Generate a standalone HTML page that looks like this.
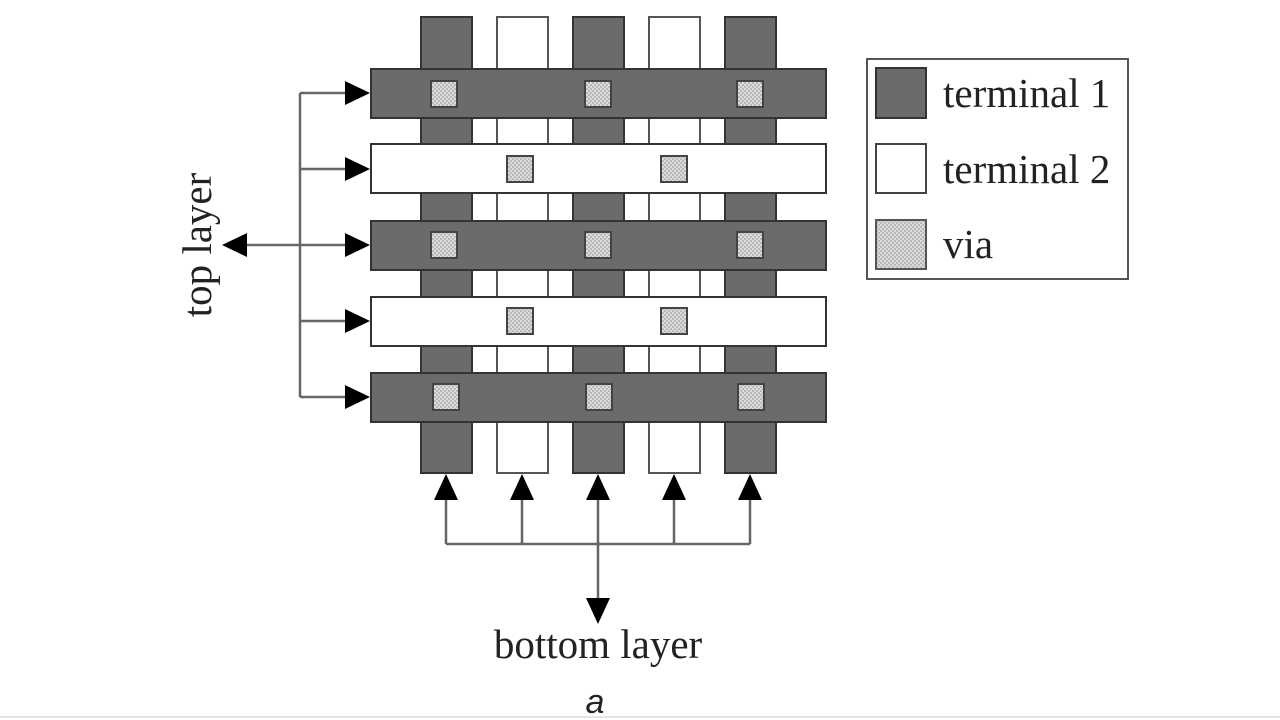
<!DOCTYPE html>
<html><head><style>html,body{margin:0;padding:0;background:#fff;}svg{display:block}</style></head>
<body>
<svg width="1280" height="720" viewBox="0 0 1280 720" xmlns="http://www.w3.org/2000/svg">
<defs>
<pattern id="dots" width="4" height="4" patternUnits="userSpaceOnUse">
<rect width="4" height="4" fill="#b8b8b8"/><rect width="2" height="2" fill="#dcdcdc"/><rect x="2" y="2" width="2" height="2" fill="#dcdcdc"/>
</pattern>
</defs>
<g stroke="#333" stroke-width="2">
<rect x="421" y="17" width="51" height="456" fill="#6b6b6b"/>
<rect x="497" y="17" width="51" height="456" fill="#fff" stroke="#555"/>
<rect x="573" y="17" width="51" height="456" fill="#6b6b6b"/>
<rect x="649" y="17" width="51" height="456" fill="#fff" stroke="#555"/>
<rect x="725" y="17" width="51" height="456" fill="#6b6b6b"/>
<rect x="371" y="69" width="455" height="49" fill="#6b6b6b"/>
<rect x="371" y="144" width="455" height="49" fill="#fff"/>
<rect x="371" y="221" width="455" height="49" fill="#6b6b6b"/>
<rect x="371" y="297" width="455" height="49" fill="#fff"/>
<rect x="371" y="373" width="455" height="49" fill="#6b6b6b"/>
</g>
<g fill="url(#dots)" stroke="#444" stroke-width="2">
<rect x="431" y="81" width="26" height="26"/><rect x="585" y="81" width="26" height="26"/><rect x="737" y="81" width="26" height="26"/>
<rect x="507" y="156" width="26" height="26"/><rect x="661" y="156" width="26" height="26"/>
<rect x="431" y="232" width="26" height="26"/><rect x="585" y="232" width="26" height="26"/><rect x="737" y="232" width="26" height="26"/>
<rect x="507" y="308" width="26" height="26"/><rect x="661" y="308" width="26" height="26"/>
<rect x="433" y="384" width="26" height="26"/><rect x="586" y="384" width="26" height="26"/><rect x="738" y="384" width="26" height="26"/>
</g>
<g stroke="#666" stroke-width="2.5" fill="none">
<path d="M300 93V397M300 93H350M300 169H350M300 245H350M245 245H300M300 321H350M300 397H350"/>
<path d="M446 544H750M446 495V544M522 495V544M598 495V604M674 495V544M750 495V544"/>
</g>
<g fill="#000">
<polygon points="370,93 345,81 345,105"/>
<polygon points="370,169 345,157 345,181"/>
<polygon points="370,245 345,233 345,257"/>
<polygon points="370,321 345,309 345,333"/>
<polygon points="370,397 345,385 345,409"/>
<polygon points="222,245 247,233 247,257"/>
<polygon points="446,474 434,500 458,500"/>
<polygon points="522,474 510,500 534,500"/>
<polygon points="598,474 586,500 610,500"/>
<polygon points="674,474 662,500 686,500"/>
<polygon points="750,474 738,500 762,500"/>
<polygon points="598,624 586,598 610,598"/>
</g>
<text x="0" y="0" transform="translate(211,245) rotate(-90)" text-anchor="middle" font-family="Liberation Serif, serif" font-size="41" fill="#222">top layer</text>
<text x="598" y="658" text-anchor="middle" font-family="Liberation Serif, serif" font-size="41" fill="#222">bottom layer</text>
<text x="595" y="713" text-anchor="middle" font-family="Liberation Sans, sans-serif" font-style="italic" font-size="34" fill="#222">a</text>
<rect x="867" y="59" width="261" height="220" fill="#fff" stroke="#555" stroke-width="2"/>
<rect x="876" y="68" width="50" height="50" fill="#6b6b6b" stroke="#333" stroke-width="2"/>
<rect x="876" y="144" width="50" height="49" fill="#fff" stroke="#444" stroke-width="2"/>
<rect x="876" y="220" width="50" height="49" fill="url(#dots)" stroke="#555" stroke-width="2"/>
<g font-family="Liberation Serif, serif" font-size="41" fill="#222">
<text x="943" y="107">terminal 1</text>
<text x="943" y="183">terminal 2</text>
<text x="943" y="258">via</text>
</g>
<line x1="0" y1="717" x2="1280" y2="717" stroke="#e4e4e4" stroke-width="2"/>
</svg>
</body></html>
